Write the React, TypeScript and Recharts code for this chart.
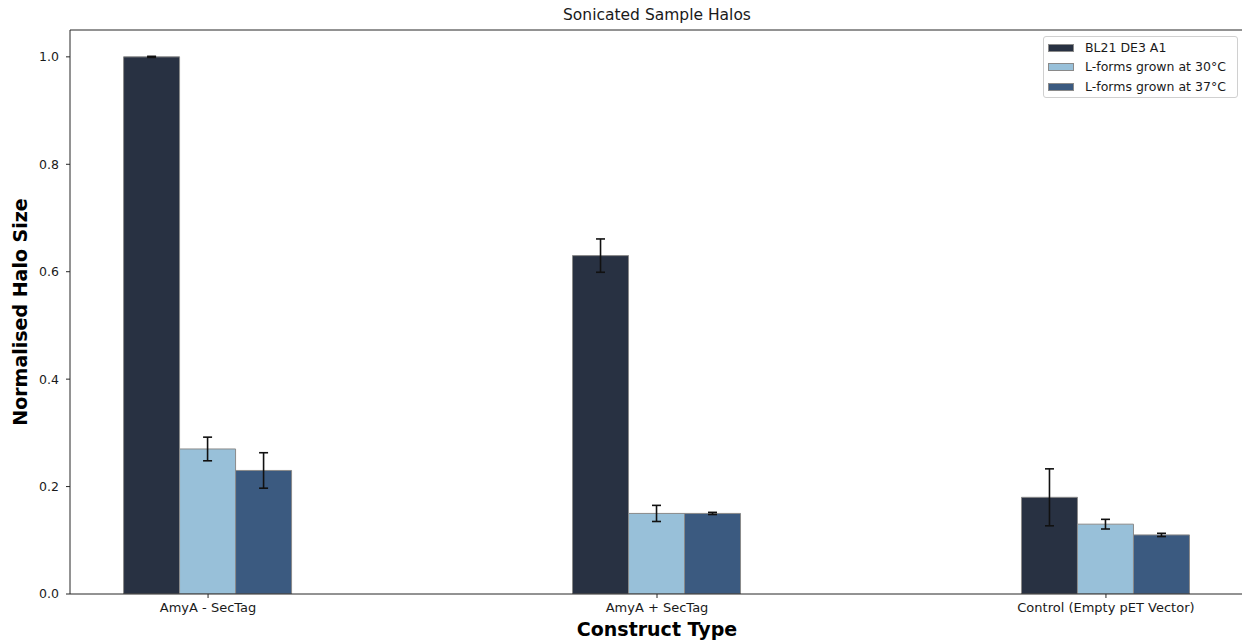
import React from 'react';
import { BarChart, Bar, XAxis, YAxis, ErrorBar, Legend, ReferenceLine } from 'recharts';

const categories = ['AmyA - SecTag', 'AmyA + SecTag', 'Control (Empty pET Vector)'];
const bl21 = [1.0, 0.63, 0.18];
const bl21Err = [0.001, 0.031, 0.053];
const lf30 = [0.27, 0.15, 0.13];
const lf30Err = [0.022, 0.015, 0.009];
const lf37 = [0.23, 0.15, 0.11];
const lf37Err = [0.033, 0.002, 0.003];
const yTicks = [0, 0.2, 0.4, 0.6, 0.8, 1.0];
const xTicks = [0, 1, 2];
const yMax = 1.05;

const seriesNames = ['BL21 DE3 A1', 'L-forms grown at 30°C', 'L-forms grown at 37°C'];
const seriesColors = ['#283142', '#98c0d9', '#3b5a80'];

const data = categories.map((name, i) => ({
  pos: i,
  name,
  bl21: bl21[i],
  bl21Err: bl21Err[i],
  lf30: lf30[i],
  lf30Err: lf30Err[i],
  lf37: lf37[i],
  lf37Err: lf37Err[i],
}));

const FONT = '"DejaVu Sans", sans-serif';
const EDGE = '#8a8a8a';
const AXIS = '#262626';

const LegendBox = () => (
  <div
    style={{
      boxSizing: 'border-box',
      width: 195,
      height: 62,
      border: '1px solid #d0d0d0',
      borderRadius: 3,
      background: 'rgba(255,255,255,0.85)',
      fontFamily: FONT,
      fontSize: 12.5,
      color: '#1a1a1a',
      position: 'relative',
      textAlign: 'left',
    }}
  >
    {seriesNames.map((n, i) => (
      <div
        key={n}
        style={{ position: 'absolute', left: 4, top: 3 + i * 19.4, height: 16, display: 'flex', alignItems: 'center', whiteSpace: 'nowrap' }}
      >
        <span
          style={{
            display: 'inline-block',
            boxSizing: 'border-box',
            width: 26,
            height: 8,
            background: seriesColors[i],
            border: `1px solid ${EDGE}`,
            marginRight: 11,
          }}
        />
        <span style={{ lineHeight: '16px' }}>{n}</span>
      </div>
    ))}
  </div>
);

export default function App() {
  return (
    <div style={{ position: 'absolute', left: 0, top: 0, width: 1242, height: 640, overflow: 'hidden', background: '#fff' }}>
      <BarChart
        width={1250}
        height={640}
        data={data}
        barGap={0}
        margin={{ top: 30, right: 6, bottom: 0, left: 0 }}
        style={{ fontFamily: FONT }}
      >
        <XAxis
          type="number"
          dataKey="pos"
          domain={[-0.3075, 2.3075]}
          allowDataOverflow
          ticks={xTicks}
          interval={0}
          tickFormatter={(v: number) => categories[v] ?? ''}
          height={46}
          tickSize={4}
          tickMargin={5}
          tick={{ fontSize: 13, fill: '#1a1a1a', fontFamily: FONT }}
          tickLine={{ stroke: AXIS }}
          axisLine={{ stroke: AXIS, strokeWidth: 1 }}
          label={{
            content: () => (
              <g>
                <text x={657} y={20} textAnchor="middle" fontFamily={FONT} fontSize={15.5} fill="#1a1a1a">
                  Sonicated Sample Halos
                </text>
                <text x={657} y={636} textAnchor="middle" fontFamily={FONT} fontSize={19} fontWeight="bold" fill="#000">
                  Construct Type
                </text>
              </g>
            ),
          }}
        />
        <YAxis
          type="number"
          domain={[0, yMax]}
          allowDataOverflow
          ticks={yTicks}
          interval={0}
          tickFormatter={(v: number) => v.toFixed(1)}
          width={70}
          tickSize={4}
          tickMargin={7}
          tick={{ fontSize: 12.5, fill: '#1a1a1a', fontFamily: FONT }}
          tickLine={{ stroke: AXIS }}
          axisLine={{ stroke: AXIS, strokeWidth: 1 }}
          label={{
            content: () => (
              <text
                x={27}
                y={312}
                transform="rotate(-90 27 312)"
                textAnchor="middle"
                fontFamily={FONT}
                fontSize={19}
                fontWeight="bold"
                fill="#000"
              >
                Normalised Halo Size
              </text>
            ),
          }}
        />
        <ReferenceLine y={yMax} stroke={AXIS} strokeWidth={1} ifOverflow="visible" />
        <Legend
          layout="horizontal"
          verticalAlign="middle"
          align="center"
          content={() => <LegendBox />}
          wrapperStyle={{ position: 'absolute', left: 1043, top: 36, width: 195, height: 62 }}
        />
        <Bar dataKey="bl21" name={seriesNames[0]} fill={seriesColors[0]} stroke={EDGE} strokeWidth={1} barSize={56} isAnimationActive={false}>
          <ErrorBar dataKey="bl21Err" direction="y" width={4.5} stroke="#111" strokeWidth={1.6} isAnimationActive={false} />
        </Bar>
        <Bar dataKey="lf30" name={seriesNames[1]} fill={seriesColors[1]} stroke={EDGE} strokeWidth={1} barSize={56} isAnimationActive={false}>
          <ErrorBar dataKey="lf30Err" direction="y" width={4.5} stroke="#111" strokeWidth={1.6} isAnimationActive={false} />
        </Bar>
        <Bar dataKey="lf37" name={seriesNames[2]} fill={seriesColors[2]} stroke={EDGE} strokeWidth={1} barSize={56} isAnimationActive={false}>
          <ErrorBar dataKey="lf37Err" direction="y" width={4.5} stroke="#111" strokeWidth={1.6} isAnimationActive={false} />
        </Bar>
      </BarChart>
    </div>
  );
}
